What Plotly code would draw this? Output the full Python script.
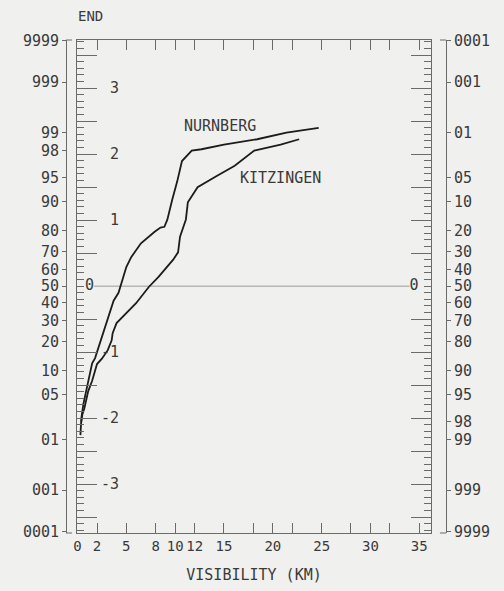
import plotly.graph_objects as go
from statistics import NormalDist

nd = NormalDist()


def probit(pct):
    return nd.inv_cdf(pct / 100.0)


# ---- data (visibility km vs cumulative frequency %) ----
nurnberg_km = [0.3, 0.4, 0.6, 0.9, 1.1, 1.5, 1.8, 2.3, 3.0, 3.4, 3.7, 4.2, 4.5, 5.0, 5.5,
               6.5, 7.9, 8.5, 8.9, 9.2, 9.7, 10.2, 10.7, 11.2, 11.7, 12.7, 15.0, 18.4, 21.4, 24.7]
nurnberg_pct = [1.2, 2.3, 3.7, 5.6, 7.5, 12.1, 13.8, 19.5, 28.5, 35.5, 41.3, 46.0, 52.4, 61.4, 67.0,
                74.2, 79.5, 81.3, 81.6, 84.3, 90.5, 94.3, 97.1, 97.6, 98.0, 98.1, 98.4, 98.7, 99.0, 99.18]

kitzingen_km = [0.4, 0.5, 0.7, 1.1, 1.5, 2.0, 2.5, 3.1, 3.5, 3.6, 4.0, 4.6, 6.0, 7.3, 8.3,
                9.8, 10.3, 10.5, 11.1, 11.3, 12.3, 14.3, 16.1, 18.1, 20.8, 22.7]
kitzingen_pct = [2.0, 2.6, 3.2, 5.6, 7.6, 11.9, 13.6, 16.6, 20.6, 23.8, 28.8, 31.9, 39.8, 49.5, 55.6,
                 65.6, 69.6, 77.3, 84.4, 89.8, 93.3, 95.3, 96.6, 98.0, 98.4, 98.7]

# x axis ticks
x_tick_vals = [0, 2, 5, 8, 10, 12, 15, 18, 20, 22, 25, 28, 30, 32, 35]
x_tick_text = ["0", "2", "5", "8", "10", "12", "15", "", "20", "", "25", "", "30", "", "35"]

# probability scale labels
left_pct = [99.99, 99.9, 99, 98, 95, 90, 80, 70, 60, 50, 40, 30, 20, 10, 5, 1, 0.1, 0.01]
left_text = ["9999", "999", "99", "98", "95", "90", "80", "70", "60", "50", "40", "30",
             "20", "10", "05", "01", "001", "0001"]
right_pct = [99.99, 99.9, 99, 95, 90, 80, 70, 60, 50, 40, 30, 20, 10, 5, 2, 1, 0.1, 0.01]
right_text = ["0001", "001", "01", "05", "10", "20", "30", "40", "50", "60", "70", "80",
              "90", "95", "98", "99", "999", "9999"]

# standard deviate scale
sigma_major = [-3.5, -3, -2.5, -2, -1.5, -1, -0.5, 0.5, 1, 1.5, 2, 2.5, 3, 3.5]
sigma_label_vals = [3, 2, 1, -1, -2, -3]
sigma_label_text = ["3", "2", "1", "-1", "-2", "-3"]

mean_level_pct = 50
mean_line_km = [1.7, 34.0]

z_range = [-3.74, 3.73]
x_range = [-0.05, 36.2]

FONT = "DejaVu Sans Mono"
TXT = "#3a3a3a"
LINE = "#6a6a6a"
BG = "#f0f0ee"
FS = 15

fig = go.Figure()

z_mean = probit(mean_level_pct)
fig.add_trace(go.Scatter(
    x=mean_line_km, y=[z_mean, z_mean], mode="lines+text",
    line=dict(color="#9a9a9a", width=1),
    text=["0", "0"], textposition=["middle left", "middle right"],
    textfont=dict(family=FONT, size=FS, color=TXT),
    showlegend=False, hoverinfo="skip"))

fig.add_trace(go.Scatter(
    x=nurnberg_km, y=[probit(p) for p in nurnberg_pct], mode="lines",
    line=dict(color="#1c1c1c", width=1.8), name="NURNBERG", showlegend=False))
fig.add_trace(go.Scatter(
    x=kitzingen_km, y=[probit(p) for p in kitzingen_pct], mode="lines",
    line=dict(color="#1c1c1c", width=1.8), name="KITZINGEN", showlegend=False))

# invisible traces on the other y axes so they render
for ya in ["y2", "y3", "y4"]:
    fig.add_trace(go.Scatter(x=[None], y=[None], yaxis=ya, showlegend=False,
                             hoverinfo="skip"))

W, H = 504, 591
ml, mr, mt, mb = 66, 58, 40, 58
pw = W - ml - mr
ph = H - mt - mb
inner_l, inner_r = 77, 431
dom = [(inner_l - ml) / pw, (inner_r - ml) / pw]

common_y = dict(range=z_range, showgrid=False, zeroline=False, linecolor=LINE, linewidth=1)
minor_ticks = dict(tickmode="linear", tick0=0, dtick=0.1, ticks="inside",
                   ticklen=7, tickcolor=LINE, showgrid=False)

annotations = [
    dict(text="NURNBERG", x=14.6, y=2.43, xref="x", yref="y", showarrow=False,
         font=dict(family=FONT, size=FS, color=TXT)),
    dict(text="KITZINGEN", x=20.8, y=1.64, xref="x", yref="y", showarrow=False,
         font=dict(family=FONT, size=FS, color=TXT)),
    dict(text="END", x=(90 - ml) / pw, y=1 + (mt - 16) / ph, xref="paper", yref="paper",
         xanchor="center", yanchor="middle", showarrow=False,
         font=dict(family=FONT, size=FS - 1, color=TXT)),
]
for v, t in zip(sigma_label_vals, sigma_label_text):
    annotations.append(dict(text=t, x=0, y=v, xref="x domain", yref="y", xanchor="right",
                            xshift=44, showarrow=False,
                            font=dict(family=FONT, size=FS, color=TXT)))

fig.update_layout(
    width=W, height=H,
    margin=dict(l=ml, r=mr, t=mt, b=mb),
    paper_bgcolor=BG, plot_bgcolor=BG,
    font=dict(family=FONT, size=FS, color=TXT),
    xaxis=dict(
        domain=dom, range=x_range, showgrid=False, zeroline=False,
        showline=True, linecolor=LINE, linewidth=1, mirror="ticks",
        ticks="inside", ticklen=10, tickcolor=LINE,
        tickmode="array", tickvals=x_tick_vals, ticktext=x_tick_text,
        tickfont=dict(size=14), tickangle=0,
        title=dict(text="VISIBILITY (KM)", font=dict(size=FS), standoff=16),
    ),
    yaxis=dict(
        **common_y, anchor="x", side="left", showline=True,
        tickmode="array", tickvals=sigma_major, ticktext=[""] * len(sigma_major),
        ticks="inside", ticklen=20, tickcolor=LINE,
        minor=minor_ticks,
    ),
    yaxis2=dict(
        **common_y, overlaying="y", anchor="free", position=0, side="left",
        showline=True, tickmode="array",
        tickvals=[probit(p) for p in left_pct], ticktext=left_text,
        ticks="outside", ticklen=4, tickcolor=LINE, tickfont=dict(size=FS),
    ),
    yaxis3=dict(
        **common_y, overlaying="y", anchor="free", position=1, side="right",
        showline=True, tickmode="array",
        tickvals=[probit(p) for p in right_pct], ticktext=right_text,
        ticks="outside", ticklen=4, tickcolor=LINE, tickfont=dict(size=FS),
    ),
    yaxis4=dict(
        **common_y, overlaying="y", anchor="x", side="right", showline=True,
        tickmode="array", tickvals=sigma_major, ticktext=[""] * len(sigma_major),
        ticks="inside", ticklen=20, tickcolor=LINE,
        minor=minor_ticks,
    ),
    annotations=annotations,
    shapes=[
        dict(type="line", xref="paper", yref="paper", x0=0, x1=0.016, y0=1, y1=1,
             line=dict(color=LINE, width=1)),
        dict(type="line", xref="paper", yref="paper", x0=0, x1=0.016, y0=0, y1=0,
             line=dict(color=LINE, width=1)),
        dict(type="line", xref="paper", yref="paper", x0=0.984, x1=1, y0=1, y1=1,
             line=dict(color=LINE, width=1)),
        dict(type="line", xref="paper", yref="paper", x0=0.984, x1=1, y0=0, y1=0,
             line=dict(color=LINE, width=1)),
    ],
)

fig.write_html("out.html")
